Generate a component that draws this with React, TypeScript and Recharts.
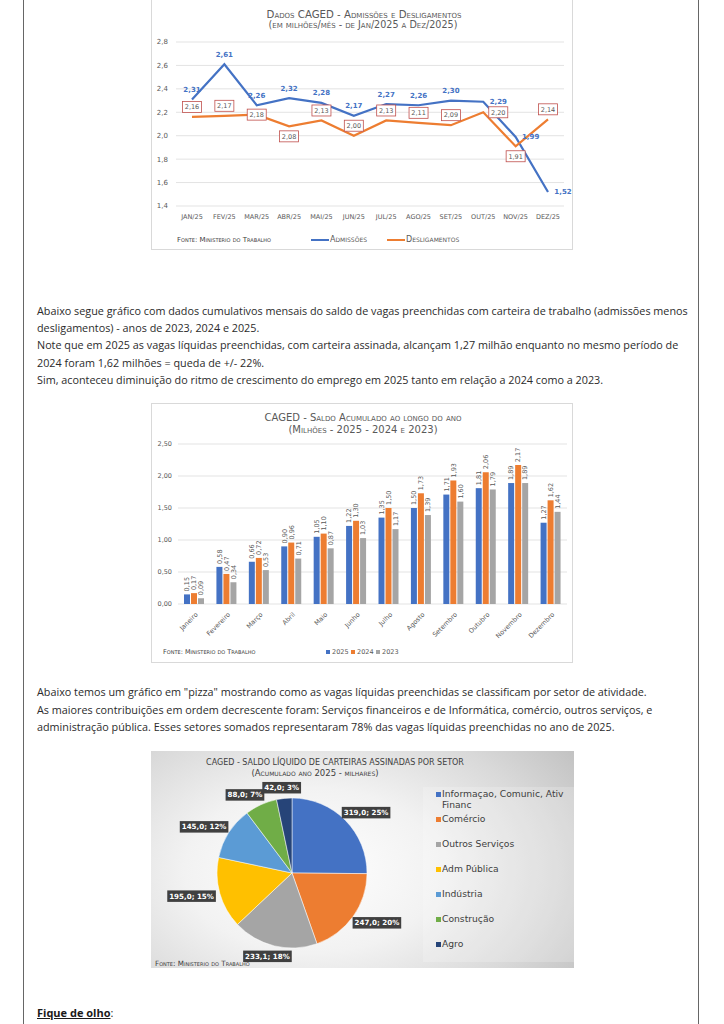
import * as React from 'react';
import { LineChart, Line, XAxis, YAxis, CartesianGrid, LabelList, BarChart, Bar, PieChart, Pie, Cell } from 'recharts';

// --- grafico 1: admissoes x desligamentos (milhoes/mes)
const meses = ['JAN/25', 'FEV/25', 'MAR/25', 'ABR/25', 'MAI/25', 'JUN/25', 'JUL/25', 'AGO/25', 'SET/25', 'OUT/25', 'NOV/25', 'DEZ/25'];
const admissoes = [2.31, 2.61, 2.26, 2.32, 2.28, 2.17, 2.27, 2.26, 2.30, 2.29, 1.99, 1.52];
const desligamentos = [2.16, 2.17, 2.18, 2.08, 2.13, 2.00, 2.13, 2.11, 2.09, 2.20, 1.91, 2.14];
const admLabelPos = ['top', 'top', 'top', 'top', 'top', 'top', 'top', 'top', 'top', 'right', 'right', 'right'];
const desLabelPos = ['top', 'top', 'center', 'bottom', 'top', 'top', 'top', 'top', 'top', 'right', 'bottom', 'top'];
const ticks1 = [1.4, 1.6, 1.8, 2.0, 2.2, 2.4, 2.6, 2.8];

// --- grafico 2: saldo acumulado (milhoes)
const mesesNome = ['Janeiro', 'Fevereiro', 'Março', 'Abril', 'Maio', 'Junho', 'Julho', 'Agosto', 'Setembro', 'Outubro', 'Novembro', 'Dezembro'];
const saldo2025 = [0.15, 0.58, 0.66, 0.90, 1.05, 1.22, 1.35, 1.50, 1.71, 1.81, 1.89, 1.27];
const saldo2024 = [0.17, 0.47, 0.72, 0.96, 1.10, 1.30, 1.50, 1.73, 1.93, 2.06, 2.17, 1.62];
const saldo2023 = [0.09, 0.34, 0.53, 0.71, 0.87, 1.03, 1.17, 1.39, 1.60, 1.79, 1.89, 1.44];
const ticks2 = [0, 0.5, 1.0, 1.5, 2.0, 2.5];

// --- grafico 3: saldo por setor (milhares)
const setores = ['Informaçao, Comunic, Ativ Financ', 'Comércio', 'Outros Serviços', 'Adm Pública', 'Indústria', 'Construção', 'Agro'];
const setorValores = [319.0, 247.0, 233.1, 195.0, 145.0, 88.0, 42.0];
const setorPct = [25, 20, 18, 15, 12, 7, 3];
const setorCores = ['#4472C4', '#ED7D31', '#A5A5A5', '#FFC000', '#5B9BD5', '#70AD47', '#264478'];

const BLUE = '#4472C4';
const ORANGE = '#ED7D31';
const GRAY = '#A5A5A5';
const TXT = '#595959';
const CHART_FONT = '"DejaVu Sans", Verdana, sans-serif';

const lineData = meses.map((m, i) => ({ mes: m, adm: admissoes[i], des: desligamentos[i] }));
const barData = mesesNome.map((m, i) => ({ mes: m, a2025: saldo2025[i], a2024: saldo2024[i], a2023: saldo2023[i] }));
const pieData = setores.map((s, i) => ({ name: s, value: setorValores[i], pct: setorPct[i] }));

const br = (v: number, d: number) => v.toFixed(d).replace('.', ',');

// rough text width for DejaVu Sans Bold
const estW = (s: string, fs: number) => {
  let w = 0;
  for (const c of s) {
    if (/[0-9]/.test(c)) w += 0.696;
    else if (c === ',' || c === ';') w += 0.38;
    else if (c === ' ') w += 0.348;
    else if (c === '%') w += 1.0;
    else w += 0.7;
  }
  return w * fs;
};

function Txt({ x, cy, size, children, center, style }: any) {
  const lh = Math.round(size * 1.3);
  return (
    <div
      style={{
        position: 'absolute',
        left: x,
        top: cy - lh / 2,
        lineHeight: lh + 'px',
        fontSize: size,
        whiteSpace: 'nowrap',
        transform: center ? 'translateX(-50%)' : undefined,
        ...style,
      }}
    >
      {children}
    </div>
  );
}

const AdmLabel = (props: any) => {
  const { x, y, value, index } = props;
  const pos = admLabelPos[index];
  const tx = pos === 'right' ? x + 15 : x;
  const ty = pos === 'right' ? y : y - 10;
  return (
    <text x={tx} y={ty} dy={2.5} textAnchor="middle" fontSize={7} fontWeight="bold" fill={BLUE} fontFamily={CHART_FONT}>
      {br(value, 2)}
    </text>
  );
};

const DesLabel = (props: any) => {
  const { x, y, value, index } = props;
  const pos = desLabelPos[index];
  let cx = x;
  let cy = y;
  if (pos === 'top') cy = y - 10;
  if (pos === 'bottom') cy = y + 10;
  if (pos === 'right') cx = x + 15;
  return (
    <g>
      <rect x={cx - 9.5} y={cy - 5.5} width={19} height={11} fill="#fff" stroke="#C0504D" strokeWidth={0.8} />
      <text x={cx} y={cy} dy={2.3} textAnchor="middle" fontSize={6.5} fill={TXT} fontFamily={CHART_FONT}>
        {br(value, 2)}
      </text>
    </g>
  );
};

const BarValueLabel = (props: any) => {
  const { x, y, width, value } = props;
  const lx = x + width / 2 + 2.3;
  const ly = y - 3;
  return (
    <text x={lx} y={ly} transform={`rotate(-90 ${lx} ${ly})`} textAnchor="start" fontSize={6.5} fill={TXT} fontFamily={CHART_FONT}>
      {br(value, 2)}
    </text>
  );
};

const MonthTick = (props: any) => {
  const { x, y, payload } = props;
  return (
    <text
      x={0}
      y={0}
      transform={`translate(${x + 4},${y + 3}) rotate(-45)`}
      textAnchor="end"
      fontSize={6.5}
      fill={TXT}
      fontFamily={CHART_FONT}
    >
      {payload.value}
    </text>
  );
};

const RAD = Math.PI / 180;
const PieLabel = (props: any) => {
  const { cx, cy, midAngle, outerRadius, index } = props;
  const c = Math.cos(-midAngle * RAD);
  const s = Math.sin(-midAngle * RAD);
  const ax = cx + (outerRadius + 5) * c;
  const ay = cy + (outerRadius + 5) * s;
  const label = `${br(setorValores[index], 1)}; ${setorPct[index]}%`;
  const w = estW(label, 7.1) + 4;
  const h = 11.5;
  // boxes of the thin top slices are pushed a bit sideways so they do not touch
  const side = index === setores.length - 2 ? -6 : 0;
  const bx = ax + (c * w) / 2 + side;
  const by = ay + (s * h) / 2;
  return (
    <g>
      <rect x={bx - w / 2} y={by - h / 2} width={w} height={h} fill="#404040" />
      <text x={bx} y={by} dy={2.5} textAnchor="middle" fontSize={7.1} fontWeight="bold" fill="#fff" fontFamily={CHART_FONT}>
        {label}
      </text>
    </g>
  );
};

const bodyStyle = { fontFamily: '"Open Sans", sans-serif', color: '#2b2b2b' };

const bloco2 = [
  'Abaixo segue gráfico com dados cumulativos mensais do saldo de vagas preenchidas com carteira de trabalho (admissões menos',
  'desligamentos)  - anos de 2023, 2024 e 2025.',
  'Note que em 2025 as vagas líquidas preenchidas, com carteira assinada, alcançam 1,27 milhão enquanto no mesmo período de',
  '2024 foram 1,62 milhões = queda de +/- 22%.',
  'Sim, aconteceu diminuição do ritmo de crescimento do emprego em 2025 tanto em relação a 2024 como a 2023.',
];
const bloco3 = [
  'Abaixo temos um gráfico em "pizza" mostrando como as vagas líquidas preenchidas se classificam por setor de atividade.',
  'As maiores contribuições em ordem decrescente foram: Serviços financeiros e de Informática, comércio, outros serviços, e',
  'administração pública. Esses setores somados representaram 78% das vagas líquidas preenchidas no ano de 2025.',
];

const chartText = { fontFamily: CHART_FONT, color: TXT };

export default function App() {
  return (
    <div style={{ position: 'absolute', left: 0, top: 0, width: 724, height: 1024, overflow: 'hidden', background: '#fff' }}>
      {/* moldura da pagina */}
      <div style={{ position: 'absolute', left: 23, top: 0, width: 674, height: 1024, borderLeft: '1px solid #666', borderRight: '1px solid #666' }} />

      {/* grafico 1 */}
      <div style={{ position: 'absolute', left: 151, top: -1, width: 422, height: 251, border: '1px solid #d9d9d9', boxSizing: 'border-box', background: '#fff' }}>
        <LineChart width={422} height={251} data={lineData} margin={{ top: 42, right: 10, bottom: 25, left: 4 }}>
          <CartesianGrid vertical={false} stroke="#e3e3e3" />
          <XAxis
            dataKey="mes"
            axisLine={false}
            tickLine={false}
            height={20}
            padding={{ left: 16, right: 16 }}
            tick={{ fontSize: 6.5, fill: TXT, fontFamily: CHART_FONT }}
            interval={0}
          />
          <YAxis
            domain={[1.4, 2.8]}
            ticks={ticks1}
            width={20}
            axisLine={false}
            tickLine={false}
            tickFormatter={(v: number) => br(v, 1)}
            tick={{ fontSize: 7, fill: TXT, fontFamily: CHART_FONT }}
          />
          <Line dataKey="adm" stroke={BLUE} strokeWidth={2.2} dot={false} isAnimationActive={false}>
            <LabelList dataKey="adm" content={AdmLabel} />
          </Line>
          <Line dataKey="des" stroke={ORANGE} strokeWidth={2.2} dot={false} isAnimationActive={false}>
            <LabelList dataKey="des" content={DesLabel} />
          </Line>
        </LineChart>
        <Txt x={212} cy={14} size={10.2} center style={{ ...chartText, fontVariant: 'small-caps' }}>Dados CAGED - Admissões e Desligamentos</Txt>
        <Txt x={211} cy={25} size={9.6} center style={{ ...chartText, fontVariant: 'small-caps' }}>(em milhões/mês - de Jan/2025 a Dez/2025)</Txt>
        <Txt x={25} cy={240} size={7} style={{ ...chartText, fontVariant: 'small-caps', color: '#404040' }}>Fonte: Ministerio do Trabalho</Txt>
        <div style={{ position: 'absolute', left: 159, top: 239, width: 18, height: 2, background: BLUE }} />
        <Txt x={178} cy={240} size={8} style={{ ...chartText, fontVariant: 'small-caps' }}>Admissões</Txt>
        <div style={{ position: 'absolute', left: 235, top: 239, width: 18, height: 2, background: ORANGE }} />
        <Txt x={254} cy={240} size={8} style={{ ...chartText, fontVariant: 'small-caps' }}>Desligamentos</Txt>
      </div>

      {bloco2.map((l, i) => (
        <Txt key={i} x={37} cy={311 + i * 17.2} size={10.8} style={bodyStyle}>{l}</Txt>
      ))}

      {/* grafico 2 */}
      <div style={{ position: 'absolute', left: 151, top: 403, width: 422, height: 260, border: '1px solid #d9d9d9', boxSizing: 'border-box', background: '#fff' }}>
        <BarChart width={422} height={260} data={barData} margin={{ top: 40, right: 7, bottom: 20, left: 4 }} barSize={6} barGap={1}>
          <CartesianGrid vertical={false} stroke="#e3e3e3" />
          <XAxis dataKey="mes" axisLine={false} tickLine={false} height={40} tick={<MonthTick />} interval={0} />
          <YAxis
            domain={[0, 2.5]}
            ticks={ticks2}
            width={22}
            axisLine={false}
            tickLine={false}
            tickMargin={0}
            tickFormatter={(v: number) => br(v, 2)}
            tick={{ fontSize: 6.5, fill: TXT, fontFamily: CHART_FONT }}
          />
          <Bar dataKey="a2025" fill={BLUE} isAnimationActive={false}>
            <LabelList dataKey="a2025" content={BarValueLabel} />
          </Bar>
          <Bar dataKey="a2024" fill={ORANGE} isAnimationActive={false}>
            <LabelList dataKey="a2024" content={BarValueLabel} />
          </Bar>
          <Bar dataKey="a2023" fill={GRAY} isAnimationActive={false}>
            <LabelList dataKey="a2023" content={BarValueLabel} />
          </Bar>
        </BarChart>
        <Txt x={211} cy={13} size={10} center style={{ ...chartText, fontVariant: 'small-caps' }}>CAGED - Saldo Acumulado ao longo do ano</Txt>
        <Txt x={211} cy={25} size={10} center style={{ ...chartText, fontVariant: 'small-caps' }}>(Milhões - 2025 - 2024 e 2023)</Txt>
        <Txt x={11} cy={248} size={6.5} style={{ ...chartText, fontVariant: 'small-caps', color: '#404040' }}>Fonte: Ministerio do Trabalho</Txt>
        {[['2025', BLUE], ['2024', ORANGE], ['2023', GRAY]].map(([t, c], i) => (
          <React.Fragment key={t}>
            <div style={{ position: 'absolute', left: 174 + i * 25, top: 246, width: 4, height: 4, background: c }} />
            <Txt x={180 + i * 25} cy={248} size={6.5} style={chartText}>{t}</Txt>
          </React.Fragment>
        ))}
      </div>

      {bloco3.map((l, i) => (
        <Txt key={i} x={37} cy={692 + i * 17.5} size={10.8} style={bodyStyle}>{l}</Txt>
      ))}

      {/* grafico 3 */}
      <div
        style={{
          position: 'absolute',
          left: 151,
          top: 751,
          width: 423,
          height: 217,
          background: 'radial-gradient(ellipse 75% 95% at 38% 55%, #ffffff 0%, #f2f2f2 40%, #d9d9d9 75%, #c3c3c3 100%)',
        }}
      >
        <div style={{ position: 'absolute', left: 272, top: 36, width: 151, height: 175, background: 'rgba(255,255,255,0.2)' }} />
        <div style={{ position: 'absolute', left: 0, top: 0 }}>
          <PieChart width={423} height={217} margin={{ top: 0, right: 0, bottom: 0, left: 0 }}>
            <Pie
              data={pieData}
              dataKey="value"
              cx={141}
              cy={122}
              outerRadius={75}
              startAngle={90}
              endAngle={-270}
              stroke="#ffffff"
              strokeWidth={0.5}
              label={PieLabel}
              labelLine={false}
              isAnimationActive={false}
            >
              {pieData.map((d, i) => (
                <Cell key={d.name} fill={setorCores[i]} />
              ))}
            </Pie>
          </PieChart>
        </div>
        <Txt x={184} cy={12} size={8} center style={{ ...chartText, color: '#404040' }}>CAGED - SALDO LÍQUIDO DE CARTEIRAS ASSINADAS POR SETOR</Txt>
        <Txt x={164} cy={22.5} size={8.5} center style={{ ...chartText, color: '#404040', fontVariant: 'small-caps' }}>(Acumulado ano 2025 - milhares)</Txt>
        <Txt x={4} cy={212} size={7.2} style={{ ...chartText, color: '#404040', fontVariant: 'small-caps' }}>Fonte: Ministerio do Trabalho</Txt>
        {setores.map((s, i) => (
          <div key={s} style={{ position: 'absolute', left: 285, top: 37 + i * 25, width: 138 }}>
            <div style={{ position: 'absolute', left: 0, top: 3.5, width: 5, height: 5, background: setorCores[i] }} />
            <div style={{ position: 'absolute', left: 6, top: 0, width: 130, fontSize: 9.2, lineHeight: '11px', ...chartText, color: '#404040' }}>{s}</div>
          </div>
        ))}
      </div>

      <div style={{ position: 'absolute', left: 37, top: 1005, fontSize: 11, lineHeight: '15px', ...bodyStyle, fontWeight: 'bold', color: '#1a1a1a' }}>
        <span style={{ textDecoration: 'underline' }}>Fique de olho</span>
        <span style={{ fontWeight: 'normal' }}>:</span>
      </div>
    </div>
  );
}
